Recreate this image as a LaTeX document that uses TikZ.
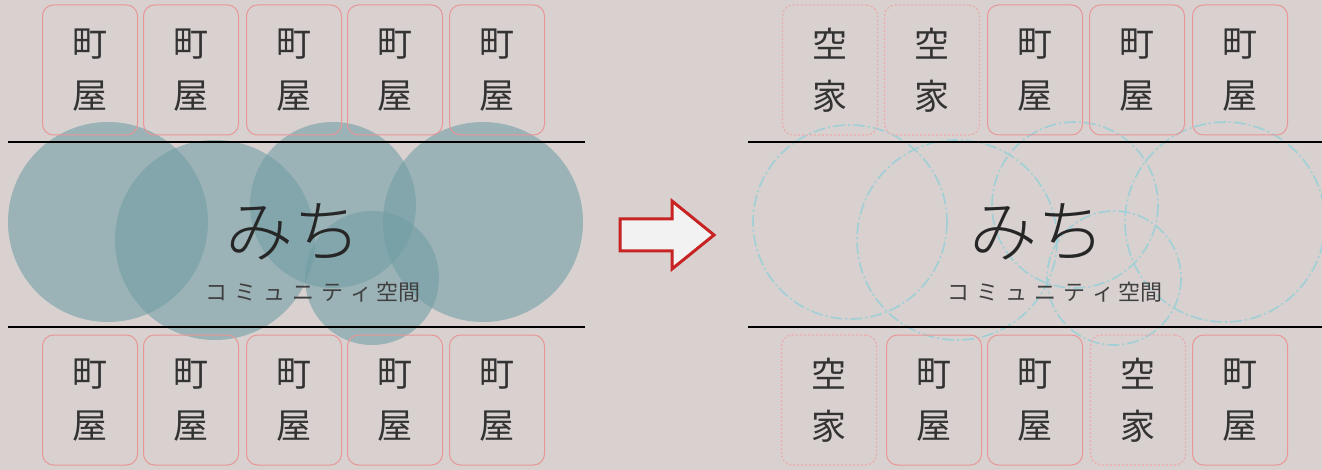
\documentclass[tikz,border=0pt]{standalone}
\usepackage{fontspec}
\newfontfamily\jp{Noto Sans CJK JP}
\newfontfamily\jpl{Noto Sans CJK JP Light}
\definecolor{bg}{RGB}{216,209,208}
\definecolor{housec}{RGB}{232,150,150}
\definecolor{vacc}{RGB}{236,172,172}
\definecolor{circc}{RGB}{112,158,165}
\definecolor{dcirc}{RGB}{160,208,214}
\definecolor{arrowred}{RGB}{200,35,35}
\tikzset{
  house/.style={draw=housec, line width=1pt, rounded corners=11pt, minimum width=95pt, minimum height=130pt, align=center, inner sep=0pt, font=\jp\fontsize{35}{52}\selectfont, text=black!80},
  vacant/.style={house, draw=vacc, dash pattern=on 2pt off 2pt, line width=1.3pt},
  road/.style={line width=2.5pt, black},
  bubble/.style={fill=circc, fill opacity=0.58, draw=none},
  dbubble/.style={draw=dcirc, line width=1.6pt, dash pattern=on 12pt off 3pt on 2pt off 3pt},
  bigtxt/.style={font=\jpl\fontsize{68}{72}\selectfont, text=black!85, inner sep=0pt},
  subtxt/.style={font=\jp\fontsize{22}{24}\selectfont, text=black!75, inner sep=0pt}
}
\newcommand{\comsp}{コ\hspace{7pt}ミ\hspace{7pt}ュ\hspace{7pt}ニ\hspace{7pt}テ\hspace{7pt}ィ\hspace{4pt}空間}
\begin{document}
\begin{tikzpicture}[x=1pt,y=-1pt]
\fill[bg] (0,0) rectangle (1322,470);
\useasboundingbox (0,0) rectangle (1322,470);
% left circles
\fill[bubble] (108,222) circle (100);
\fill[bubble] (215,240) circle (100);
\fill[bubble] (333,205) circle (83);
\fill[bubble] (372,278) circle (67);
\fill[bubble] (483,222) circle (100);
% left roads
\draw[road] (8,142) -- (585,142);
\draw[road] (8,327) -- (585,327);
% left houses
\foreach \x [count=\i] in {90,191,294,395,497}{
  \node[house] (lt\i) at (\x,70) {町\\屋};
  \node[house] (lb\i) at (\x,400) {町\\屋};
}
\node[bigtxt] (m1) at (293,232) {みち};
\node[subtxt] (s1) at (313,292) {\comsp};
% arrow
\draw[arrowred, line width=3pt, fill=black!5, line join=miter]
  (620,219) -- (672,219) -- (672,201) -- (714,235) -- (672,269) -- (672,251) -- (620,251) -- cycle;
% right circles
\draw[dbubble] (850,222) circle (97);
\draw[dbubble] (957,240) circle (100);
\draw[dbubble] (1075,205) circle (83);
\draw[dbubble] (1114,278) circle (67);
\draw[dbubble] (1225,222) circle (100);
% right roads
\draw[road] (748,142) -- (1322,142);
\draw[road] (748,327) -- (1322,327);
% right houses top
\node[vacant] (rt1) at (830,70) {空\\家};
\node[vacant] (rt2) at (932,70) {空\\家};
\node[house] (rt3) at (1035,70) {町\\屋};
\node[house] (rt4) at (1137,70) {町\\屋};
\node[house] (rt5) at (1240,70) {町\\屋};
% right houses bottom
\node[vacant] (rb1) at (829,400) {空\\家};
\node[house] (rb2) at (934,400) {町\\屋};
\node[house] (rb3) at (1035,400) {町\\屋};
\node[vacant] (rb4) at (1138,400) {空\\家};
\node[house] (rb5) at (1240,400) {町\\屋};
\node[bigtxt] (m2) at (1037,232) {みち};
\node[subtxt] (s2) at (1055,292) {\comsp};
\end{tikzpicture}
\end{document}
